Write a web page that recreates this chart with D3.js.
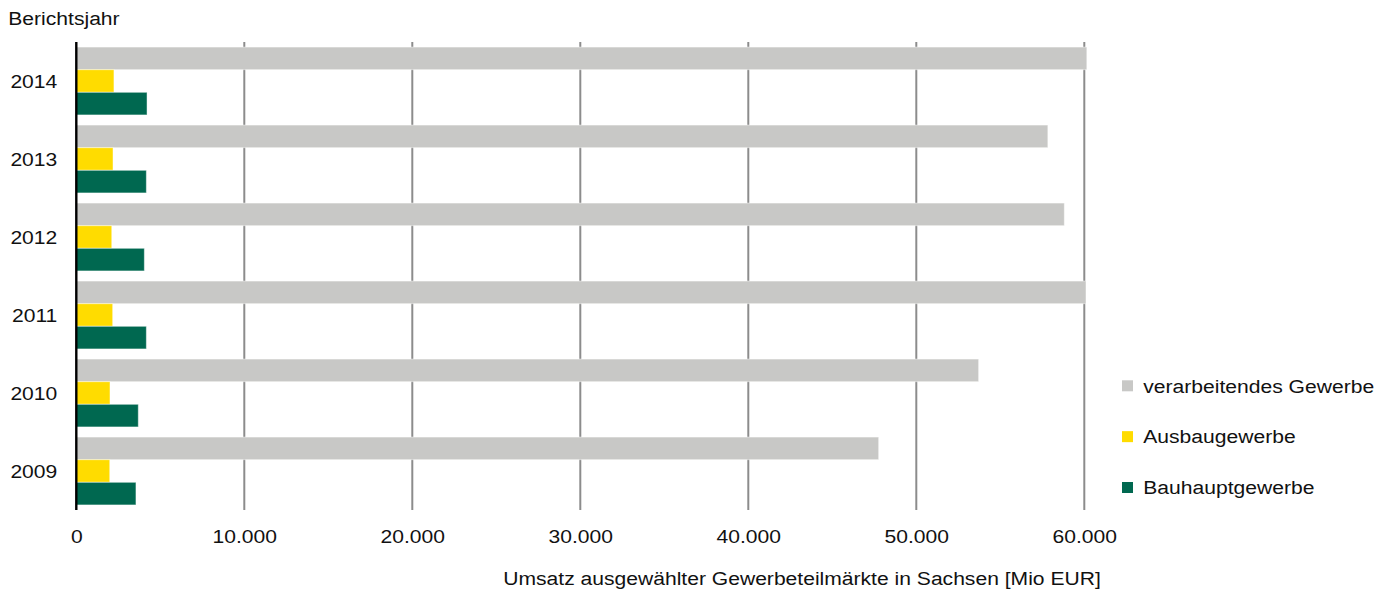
<!DOCTYPE html>
<html lang="de">
<head>
<meta charset="utf-8">
<title>Umsatz ausgewählter Gewerbeteilmärkte in Sachsen</title>
<script src="https://cdn.jsdelivr.net/npm/d3@7"></script>
<style>
  html, body { margin: 0; padding: 0; background: #ffffff; }
  svg { display: block; }
  text { font-family: "Liberation Sans", Arial, Helvetica, sans-serif; fill: #111111; }
</style>
</head>
<body>
<svg id="chart" width="1392" height="589"></svg>
<script>
// Berichtsjahre (top to bottom)
const years = ["2014", "2013", "2012", "2011", "2010", "2009"];

// Umsatz in Mio EUR je Gewerbeteilmarkt
const verarbeitendesGewerbe = [60150, 57830, 58810, 60100, 53710, 47760];
const ausbaugewerbe         = [2240, 2185, 2110, 2165, 2005, 1990];
const bauhauptgewerbe       = [4210, 4170, 4050, 4170, 3690, 3550];

const seriesNames  = ["verarbeitendes Gewerbe", "Ausbaugewerbe", "Bauhauptgewerbe"];
const seriesColors = ["#c8c8c6", "#ffdc00", "#006850"];
const xTicks = [0, 10000, 20000, 30000, 40000, 50000, 60000];

const axisTitle = "Umsatz ausgewählter Gewerbeteilmärkte in Sachsen [Mio EUR]";
const yTitle = "Berichtsjahr";

const seriesValues = [verarbeitendesGewerbe, ausbaugewerbe, bauhauptgewerbe];
const rows = years.map((y, i) => ({
  year: y,
  values: seriesNames.map((s, k) => ({ key: s, value: seriesValues[k][i], color: seriesColors[k] }))
}));

// German number format: thousands separated by "."
const de = d3.formatLocale({ decimal: ",", thousands: ".", grouping: [3], currency: ["", " €"] });
const fmt = de.format(",d");

const fontSize = 19;
const stretch = 1.11;   // slightly widened lettering

const svg = d3.select("#chart");
const plot = { left: 76.3, right: 1084.3, top: 42, bottom: 510 };

const x = d3.scaleLinear().domain([0, 60000]).range([plot.left, plot.right]);
const y = d3.scaleBand().domain(years).range([plot.top, plot.bottom])
  .paddingInner(0.13).paddingOuter(0.065);
const y1 = d3.scaleBand().domain(seriesNames).range([0, y.bandwidth()]);

// vertical gridlines
svg.append("g").selectAll("line")
  .data(xTicks.filter(t => t > 0))
  .join("line")
  .attr("x1", d => x(d)).attr("x2", d => x(d))
  .attr("y1", plot.top).attr("y2", plot.bottom)
  .attr("stroke", "#8c8c8c").attr("stroke-width", 2);

// bars
const groups = svg.append("g").selectAll("g")
  .data(rows)
  .join("g")
  .attr("transform", d => `translate(0,${y(d.year)})`);

groups.selectAll("rect")
  .data(d => d.values)
  .join("rect")
  .attr("x", x(0))
  .attr("y", d => y1(d.key))
  .attr("width", d => x(d.value) - x(0))
  .attr("height", y1.bandwidth())
  .attr("fill", d => d.color)
  .attr("stroke", "#ffffff")
  .attr("stroke-opacity", 0.45)
  .attr("stroke-width", 1);

// x axis (labels only)
const xAxis = svg.append("g")
  .attr("transform", `translate(0,${plot.bottom})`)
  .call(d3.axisBottom(x).tickValues(xTicks).tickSize(0).tickPadding(20).tickFormat(fmt));
xAxis.select(".domain").remove();
xAxis.selectAll("text")
  .attr("font-size", fontSize)
  .attr("font-family", null)
  .attr("fill", "#111111")
  .attr("transform", `scale(${stretch},1)`);

// y axis: labels plus black baseline
const yAxis = svg.append("g")
  .attr("transform", `translate(${x(0)},0)`)
  .call(d3.axisLeft(y).tickSize(0).tickPadding(0));
yAxis.select(".domain").remove();
yAxis.selectAll("text")
  .attr("font-size", fontSize)
  .attr("font-family", null)
  .attr("fill", "#111111")
  .attr("x", null)
  .attr("dy", "0.36em")
  .attr("transform", `translate(-19,0) scale(${stretch},1)`);

svg.append("line")
  .attr("x1", x(0)).attr("x2", x(0))
  .attr("y1", plot.top).attr("y2", plot.bottom)
  .attr("stroke", "#000000").attr("stroke-width", 2.4);

// titles
svg.append("text")
  .attr("transform", `translate(8.3,24.7) scale(${stretch},1)`)
  .attr("font-size", fontSize)
  .text(yTitle);

svg.append("text")
  .attr("transform", `translate(802,585) scale(${stretch},1)`)
  .attr("text-anchor", "middle")
  .attr("font-size", fontSize)
  .text(axisTitle);

// legend
const legendY = d3.scalePoint().domain(seriesNames).range([385.8, 487.5]);
const legend = svg.append("g").selectAll("g")
  .data(seriesNames)
  .join("g")
  .attr("transform", d => `translate(1122,${legendY(d)})`);

legend.append("rect")
  .attr("x", 0).attr("y", -5.5)
  .attr("width", 11).attr("height", 11)
  .attr("fill", (d, i) => seriesColors[i]);

legend.append("text")
  .attr("transform", `translate(21.3,6.8) scale(${stretch},1)`)
  .attr("font-size", fontSize)
  .text(d => d);
</script>
</body>
</html>
